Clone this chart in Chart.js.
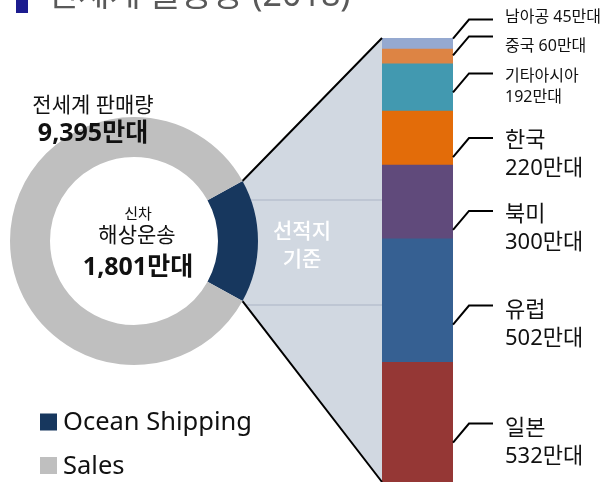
<!DOCTYPE html>
<html>
<head>
<meta charset="utf-8">
<script src="https://cdn.jsdelivr.net/npm/chart.js@4.4.1/dist/chart.umd.min.js"></script>
<style>
  html, body { margin: 0; padding: 0; background: #ffffff; }
  #wrap { position: relative; width: 611px; height: 482px; overflow: hidden; background: #ffffff; }
  #wrap canvas { position: absolute; left: 0; top: 0; }
</style>
</head>
<body>
<div id="wrap">
  <canvas id="barCanvas" width="611" height="520"></canvas>
  <canvas id="donutCanvas" width="611" height="520"></canvas>
</div>
<script>
// ---- data ----
const titleText = '전세계 물동량 (2018)';
const regions = ['남아공', '중국', '기타아시아', '한국', '북미', '유럽', '일본'];
const shipments = [45, 60, 192, 220, 300, 502, 532]; // 만대
const regionColors = ['#95a9d0', '#dd8444', '#4299b0', '#e36c09', '#604a7b', '#366092', '#953735'];
const donutLabels = ['Ocean Shipping', 'Sales'];
const donutValues = [1801, 9395]; // 만대
const donutColors = ['#17375e', '#bfbfbf'];
const unit = '만대';

// ---- layout / style constants ----
const FONT = '"Noto Sans", "Noto Sans CJK KR", sans-serif';
const VIEW_H = 482;
const leaderDy = [-5, -1, 5, 19, 28, 24, 15];   // leader start relative to segment middle
const textDy = [-2, 10, 3, 3, 4, 5, 5];         // first text line relative to leader
const total = shipments.reduce((a, b) => a + b, 0);
const fmt = n => n.toLocaleString('en-US');

const order = regions.map((_, i) => i).reverse(); // bottom-up stacking

const labelPlugin = {
  id: 'regionLabels',
  afterDatasetsDraw(chart) {
    const ctx = chart.ctx;
    ctx.save();
    regions.forEach((name, i) => {
      const dsIndex = order.indexOf(i);
      const el = chart.getDatasetMeta(dsIndex).data[0];
      const top = Math.min(el.y, el.base), bottom = Math.max(el.y, el.base);
      const mid = (top + bottom) / 2;
      const right = el.x + el.width / 2;
      const sy = mid + leaderDy[i];
      const ly = sy - 19;
      ctx.strokeStyle = '#000000';
      ctx.lineWidth = 2;
      ctx.lineJoin = 'miter';
      ctx.beginPath();
      ctx.moveTo(right, sy);
      ctx.lineTo(right + 16, ly);
      ctx.lineTo(right + 40, ly);
      ctx.stroke();
      ctx.fillStyle = '#111111';
      ctx.textAlign = 'left';
      ctx.textBaseline = 'middle';
      const tx = right + 52;
      const ty = ly + textDy[i];
      if (i < 2) {
        ctx.font = '16px ' + FONT;
        ctx.fillText(name + ' ' + shipments[i] + unit, tx, ty);
      } else if (i < 3) {
        ctx.font = '16px ' + FONT;
        ctx.fillText(name, tx, ty);
        ctx.fillText(shipments[i] + unit, tx, ty + 21);
      } else {
        ctx.font = '22px ' + FONT;
        ctx.fillText(name, tx, ty);
        ctx.fillText(shipments[i] + unit, tx, ty + 28);
      }
    });
    ctx.restore();
  }
};

const barChart = new Chart(document.getElementById('barCanvas'), {
  type: 'bar',
  data: {
    labels: ['선적지'],
    datasets: order.map(i => ({
      label: regions[i],
      data: [shipments[i]],
      backgroundColor: regionColors[i],
      borderWidth: 0,
      barPercentage: 1,
      categoryPercentage: 1
    }))
  },
  options: {
    responsive: false,
    animation: false,
    devicePixelRatio: 1,
    layout: { padding: { left: 382, right: 158, top: 38, bottom: 27 } },
    scales: {
      x: { stacked: true, display: false },
      y: { stacked: true, display: false, min: 0, max: total }
    },
    plugins: { legend: { display: false }, tooltip: { enabled: false }, title: { display: false } }
  },
  plugins: [labelPlugin]
});

const donutPlugin = {
  id: 'donutExtras',
  beforeDatasetsDraw(chart) {
    const ctx = chart.ctx;
    const arc = chart.getDatasetMeta(0).data[0];
    const R = arc.outerRadius;
    const p1 = { x: arc.x + R * Math.cos(arc.startAngle), y: arc.y + R * Math.sin(arc.startAngle) };
    const p2 = { x: arc.x + R * Math.cos(arc.endAngle), y: arc.y + R * Math.sin(arc.endAngle) };
    const bLeft = barChart.chartArea.left;
    const bTop = barChart.scales.y.getPixelForValue(total);
    const bBottom = Math.min(barChart.scales.y.getPixelForValue(0), VIEW_H);
    ctx.save();
    ctx.beginPath();
    ctx.moveTo(p1.x, p1.y);
    ctx.lineTo(bLeft, bTop);
    ctx.lineTo(bLeft, bBottom);
    ctx.lineTo(p2.x, p2.y);
    ctx.closePath();
    ctx.fillStyle = '#d1d8e1';
    ctx.fill();
    ctx.clip();
    ctx.strokeStyle = '#b7c1ce';
    ctx.lineWidth = 1.5;
    [200, 305].forEach(y => {
      ctx.beginPath();
      ctx.moveTo(arc.x, y);
      ctx.lineTo(bLeft, y);
      ctx.stroke();
    });
    ctx.restore();
    ctx.save();
    ctx.strokeStyle = '#000000';
    ctx.lineWidth = 2;
    ctx.beginPath();
    ctx.moveTo(p1.x, p1.y);
    ctx.lineTo(bLeft, bTop);
    ctx.moveTo(p2.x, p2.y);
    ctx.lineTo(bLeft, bBottom);
    ctx.stroke();
    ctx.fillStyle = '#ffffff';
    ctx.font = '500 21px ' + FONT;
    ctx.textAlign = 'center';
    ctx.textBaseline = 'middle';
    ctx.fillText('선적지', arc.x + 168, arc.y - 9);
    ctx.fillText('기준', arc.x + 168, arc.y + 19);
    ctx.restore();
  },
  afterDraw(chart) {
    const ctx = chart.ctx;
    const arc = chart.getDatasetMeta(0).data[0];
    const cx = arc.x, cy = arc.y;
    ctx.save();
    ctx.textAlign = 'center';
    ctx.textBaseline = 'middle';
    ctx.fillStyle = '#111111';
    // centre text
    ctx.font = '15px ' + FONT;
    ctx.fillText('신차', cx + 4, cy - 26);
    ctx.font = '21px ' + FONT;
    ctx.fillText('해상운송', cx + 3, cy - 5);
    ctx.font = 'bold 25px ' + FONT;
    ctx.fillText(fmt(donutValues[0]) + unit, cx + 4, cy + 27);
    // total sales text
    ctx.font = '21px ' + FONT;
    ctx.fillText('전세계 판매량', cx - 41, cy - 135);
    ctx.font = 'bold 25px ' + FONT;
    ctx.fillText(fmt(donutValues[1]) + unit, cx - 41, cy - 107);
    // legend
    ctx.textAlign = 'left';
    chart.data.labels.forEach((lab, i) => {
      const y = 422 + i * 43.5;
      ctx.fillStyle = chart.data.datasets[0].backgroundColor[i];
      ctx.fillRect(40, y - 8.5, 17, 17);
      ctx.fillStyle = '#111111';
      ctx.font = '25.5px ' + FONT;
      ctx.fillText(lab, 63, y + 1);
    });
    // title (mostly cut off at top)
    ctx.fillStyle = '#1c1c8f';
    ctx.fillRect(16, -20, 12, 33);
    ctx.fillStyle = '#595959';
    ctx.font = '34px ' + FONT;
    ctx.textBaseline = 'alphabetic';
    ctx.fillText(titleText, 47, 6);
    ctx.restore();
  }
};

const donutSum = donutValues.reduce((a, b) => a + b, 0);
new Chart(document.getElementById('donutCanvas'), {
  type: 'doughnut',
  data: {
    labels: donutLabels,
    datasets: [{
      data: donutValues,
      backgroundColor: donutColors,
      borderWidth: 0,
      hoverOffset: 0
    }]
  },
  options: {
    responsive: false,
    animation: false,
    devicePixelRatio: 1,
    rotation: 90 - donutValues[0] / donutSum * 180,
    cutout: (84 / 124 * 100) + '%',
    layout: { padding: { left: 10, top: 117, right: 353, bottom: 155 } },
    plugins: { legend: { display: false }, tooltip: { enabled: false }, title: { display: false } }
  },
  plugins: [donutPlugin]
});
</script>
</body>
</html>
